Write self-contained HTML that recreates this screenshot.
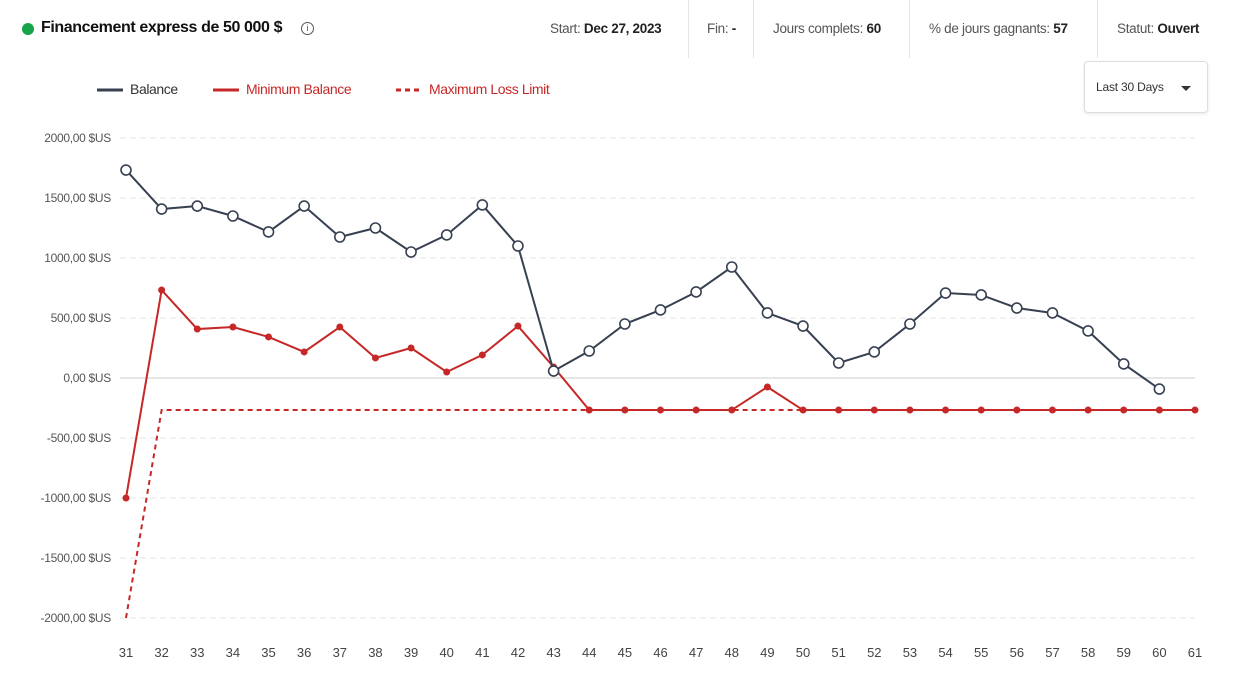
<!DOCTYPE html>
<html><head><meta charset="utf-8"><style>
body{margin:0;width:1233px;height:682px;background:#fff;font-family:"Liberation Sans",sans-serif;overflow:hidden;position:relative}
.t{position:absolute}
.cell{position:absolute;top:21px;font-size:13.5px;color:#555;white-space:nowrap;letter-spacing:-0.3px}
.cell b{color:#222}
.sep{position:absolute;top:0;width:1px;height:58px;background:#e5e5e5}
</style></head><body>
<div class="t" style="left:22px;top:23px;width:12px;height:12px;border-radius:50%;background:#16a34a"></div>
<div class="t" style="left:41px;top:19px;font-size:16px;font-weight:bold;color:#111;white-space:nowrap;letter-spacing:-0.4px">Financement express de 50 000 $</div>
<div class="t" style="left:301px;top:22px;width:11px;height:11px;border:1px solid #555;border-radius:50%;font-size:9px;line-height:11px;text-align:center;color:#555">i</div>
<div class="cell" style="left:550px">Start: <b>Dec 27, 2023</b></div>
<div class="sep" style="left:688px"></div>
<div class="cell" style="left:707px">Fin: <b>-</b></div>
<div class="sep" style="left:753px"></div>
<div class="cell" style="left:773px">Jours complets: <b>60</b></div>
<div class="sep" style="left:909px"></div>
<div class="cell" style="left:929px">% de jours gagnants: <b>57</b></div>
<div class="sep" style="left:1097px"></div>
<div class="cell" style="left:1117px">Statut: <b>Ouvert</b></div>
<div class="t" style="left:1084px;top:61px;width:122px;height:50px;border:1px solid #ddd;border-radius:4px;box-shadow:0 1px 3px rgba(0,0,0,.1);font-size:12px;color:#333"><span style="position:absolute;left:11px;top:18px;letter-spacing:-0.2px">Last 30 Days</span><span style="position:absolute;left:96px;top:24px;border-left:5px solid transparent;border-right:5px solid transparent;border-top:5px solid #333"></span></div>
<svg id="c" class="t" style="left:0;top:0" width="1233" height="682"></svg>
<script>
const days=[31,32,33,34,35,36,37,38,39,40,41,42,43,44,45,46,47,48,49,50,51,52,53,54,55,56,57,58,59,60,61];
const balance=[1733,1408,1433,1350,1217,1433,1175,1250,1050,1192,1442,1100,58,225,450,567,717,925,542,433,125,217,450,708,692,583,542,392,117,-92,null];
const minBalance=[-1000,733,408,425,342,217,425,167,250,50,192,433,92,-267,-267,-267,-267,-267,-75,-267,-267,-267,-267,-267,-267,-267,-267,-267,-267,-267,-267];
const maxLoss=[-2000,-267,-267,-267,-267,-267,-267,-267,-267,-267,-267,-267,-267,-267,-267,-267,-267,-267,-267,-267,-267,-267,-267,-267,-267,-267,-267,-267,-267,-267,-267];
const yTicks=[2000,1500,1000,500,0,-500,-1000,-1500,-2000];
const yLabels=["2000,00 $US","1500,00 $US","1000,00 $US","500,00 $US","0,00 $US","-500,00 $US","-1000,00 $US","-1500,00 $US","-2000,00 $US"];
const svg=document.getElementById('c');const NS='http://www.w3.org/2000/svg';
const X=i=>126+i*(1195-126)/30, Y=v=>378-v*0.12;
function el(t,a,p){const e=document.createElementNS(NS,t);for(const k in a)e.setAttribute(k,a[k]);(p||svg).appendChild(e);return e;}
yTicks.forEach((v,i)=>{
 const g=el('line',{x1:120,x2:1195,y1:Y(v),y2:Y(v),stroke:v===0?'#ccc':'#e6e6e6','stroke-dasharray':v===0?'':'6,4'});
 
 
 const t=el('text',{x:111,y:Y(v)+4,'text-anchor':'end','font-size':12,fill:'#555','letter-spacing':'-0.3'});t.textContent=yLabels[i];
 
 
});
days.forEach((d,i)=>{const t=el('text',{x:X(i),y:657,'text-anchor':'middle','font-size':13,fill:'#444'});t.textContent=d;
 
 });
function path(arr){let s='';arr.forEach((v,i)=>{if(v!==null)s+=(s?'L':'M')+X(i)+','+Y(v);});return s;}
const ml=el('path',{d:path(maxLoss),fill:'none',stroke:'#c62828','stroke-width':2,'stroke-dasharray':'5,4'});


const mb=el('path',{d:path(minBalance),fill:'none',stroke:'#c62828','stroke-width':2});


minBalance.forEach((v,i)=>{const c=el('circle',{cx:X(i),cy:Y(v),r:3.5,fill:'#c62828'});
 
 });
const bl=el('path',{d:path(balance),fill:'none',stroke:'#374151','stroke-width':2});


balance.forEach((v,i)=>{if(v===null)return;const c=el('circle',{cx:X(i),cy:Y(v),r:5,fill:'#fff',stroke:'#374151','stroke-width':1.6});
 
 });
const leg=[[97,'Balance','#374151',''],[213,'Minimum Balance','#c62828',''],[396,'Maximum Loss Limit','#c62828','5,4']];
leg.forEach(l=>{const g=el('g',{});
 
 
 el('line',{x1:l[0],x2:l[0]+26,y1:90,y2:90,stroke:l[2],'stroke-width':3,'stroke-dasharray':l[3]},g);
 const t=el('text',{x:l[0]+33,y:94,'font-size':14,fill:l[1]==='Balance'?'#333':'#c62828','letter-spacing':'-0.4'},g);t.textContent=l[1];});
</script>
</body></html>
